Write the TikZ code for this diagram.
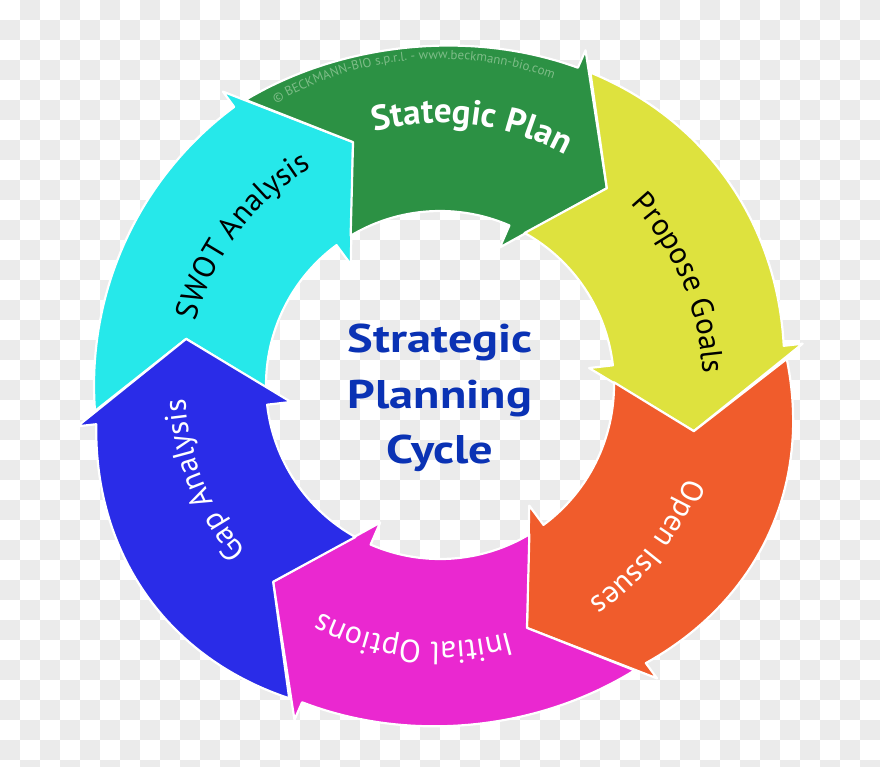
\documentclass[tikz,border=0pt]{standalone}
\usepackage{fontspec}
\usepackage{graphicx}
\setmainfont{PT Sans}
\usetikzlibrary{decorations.text}
\definecolor{cCyan}{RGB}{38,232,234}
\definecolor{cGreen}{RGB}{44,145,68}
\definecolor{cYellow}{RGB}{222,226,62}
\definecolor{cOrange}{RGB}{240,92,44}
\definecolor{cMagenta}{RGB}{234,40,208}
\definecolor{cBlue}{RGB}{42,44,232}
\definecolor{cTitle}{RGB}{10,50,180}
\definecolor{cChk}{RGB}{235,235,235}
\definecolor{cMark}{RGB}{125,188,135}
\tikzset{
  arrowbody/.style={draw=white, line width=2.2pt, line join=round},
  titletext/.style={text=cTitle, font=\bfseries\fontsize{40}{40}\selectfont, anchor=base, inner sep=0pt}
}
% #1 = angle of the tail barbs, #2 = colour, #3 = bulge of the outer edge
\newcommand{\ringarrow}[3]{%
  \pgfmathsetmacro{\rgTI}{#1-5.6}%
  \pgfmathsetmacro{\rgTT}{#1-16.8}%
  \pgfmathsetmacro{\rgH}{#1-60}%
  \pgfmathsetmacro{\rgHT}{#1-76.8}%
  \path[arrowbody, fill=#2]
    plot[domain=0.0367:1, samples=48, variable=\rgt] ({#1-60*\rgt}:{346+(#3)*sin(180*\rgt)})
    -- (\rgH:365) -- (\rgHT:258) -- (\rgH:150) -- (\rgH:174)
    arc[start angle=\rgH, end angle=\rgTI, radius=174] -- (\rgTT:258) -- cycle;
}
% #1 = centre angle, #2 = baseline radius, #3 = font, #4 = colour, #5 = text
\newcommand{\ringlabel}[5]{%
  \pgfmathsetmacro{\rgA}{#1+40}%
  \pgfmathsetmacro{\rgB}{#1-40}%
  \path[decorate, decoration={text along path, text align=center, text color=#4,
     text={|#3|#5}}] (\rgA:#2) arc[start angle=\rgA, end angle=\rgB, radius=#2];
}
\begin{document}
\begin{tikzpicture}[x=1pt, y=1pt]
\useasboundingbox (0,0) rectangle (880,-766);
\fill[white] (0,0) rectangle (880,-766);
\foreach \i in {0,...,43}{\foreach \j in {0,...,38}{%
  \pgfmathtruncatemacro{\chk}{mod(\i+\j,2)}%
  \ifnum\chk=1 \fill[cChk] (\i*20,-\j*20) rectangle ++(20,-20);\fi}}
\begin{scope}[shift={(440,-385)}]
  \ringarrow{186.5}{cCyan}{0}
  \ringarrow{126.5}{cGreen}{-7}
  \ringarrow{66.5}{cYellow}{7}
  \ringarrow{6.5}{cOrange}{15}
  \ringarrow{-53.5}{cMagenta}{-5}
  \ringarrow{-113.5}{cBlue}{15}
  \ringlabel{143}{252}{\fontsize{31}{31}\selectfont}{black}{SWOT Analysis}
  \ringlabel{83}{262}{\bfseries\fontsize{35}{35}\selectfont}{white}{Stategic Plan}
  \ringlabel{23}{263}{\fontsize{31}{31}\selectfont}{black}{Propose Goals}
  \ringlabel{-38}{263}{\fontsize{31}{31}\selectfont}{white}{Open Issues}
  \ringlabel{-96}{257}{\fontsize{32}{32}\selectfont}{white}{Initial Options}
  \ringlabel{-158}{255}{\fontsize{31}{31}\selectfont}{white}{Gap Analysis}
  \ringlabel{95}{326}{\fontsize{13}{13}\selectfont}{cMark}{© BECKMANN-BIO s.p.r.l. - www.beckmann-bio.com}
\end{scope}
\node[titletext] (t1) at (440,-352) {\scalebox{1.21}[1]{Strategic}};
\node[titletext] (t2) at (440,-408) {\scalebox{1.21}[1]{Planning}};
\node[titletext] (t3) at (440,-463) {\scalebox{1.21}[1]{Cycle}};
\end{tikzpicture}
\end{document}
